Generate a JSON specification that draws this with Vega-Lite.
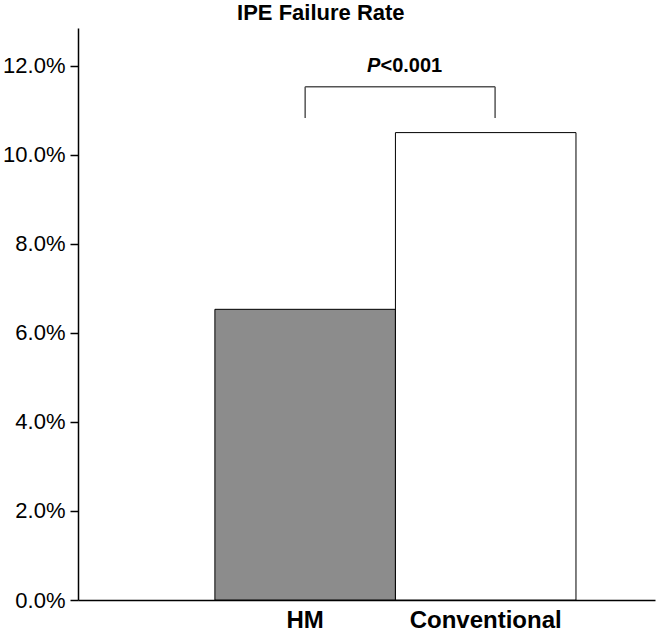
{
  "$schema": "https://vega.github.io/schema/vega-lite/v6.json",
  "width": 577,
  "height": 572,
  "autosize": {"type": "none"},
  "padding": {"left": 78, "top": 28, "right": 1, "bottom": 34},
  "background": "white",
  "config": {
    "view": {"stroke": null},
    "font": "Liberation Sans",
    "axisX": {"domainColor": "black", "domainWidth": 1.5, "ticks": false, "labelAngle": 0, "labelFontWeight": "bold", "labelFontSize": 24, "labelColor": "black", "labelPadding": 8, "grid": false},
    "axisY": {"domainColor": "black", "domainWidth": 1.5, "tickColor": "black", "tickSize": 8, "tickWidth": 1.5, "labelFontSize": 22, "labelColor": "black", "labelPadding": 5, "grid": false}
  },
  "title": {"text": "IPE Failure Rate", "fontSize": 22, "fontWeight": "bold", "color": "black", "frame": "bounds", "anchor": "middle", "offset": 3, "dx": -8},
  "datasets": {
    "bars": [
      {"group": "HM", "rate": 0.0653},
      {"group": "Conventional", "rate": 0.105}
    ],
    "bracketLeft": [{"group": "HM", "low": 0.1083, "high": 0.1153}],
    "bracketRight": [{"group": "Conventional", "low": 0.1083, "high": 0.1153}],
    "bracketTop": [{"from": "HM", "to": "Conventional", "level": 0.1153}],
    "pLabel": [{"group": "HM", "level": 0.12, "italic": "P", "rest": "<0.001"}]
  },
  "layer": [
    {
      "data": {"name": "bars"},
      "mark": {"type": "bar", "stroke": "black", "strokeWidth": 1},
      "encoding": {
        "x": {"field": "group", "type": "nominal", "title": null,
              "scale": {"domain": ["HM", "Conventional"], "paddingInner": 0, "paddingOuter": 0.598, "align": 0.634}},
        "y": {"field": "rate", "type": "quantitative", "title": null,
              "scale": {"domain": [0, 0.1285], "nice": false},
              "axis": {"values": [0, 0.02, 0.04, 0.06, 0.08, 0.1, 0.12], "format": ".1%"}},
        "color": {"field": "group", "type": "nominal", "legend": null,
                  "scale": {"domain": ["HM", "Conventional"], "range": ["#8c8c8c", "#ffffff"]}}
      }
    },
    {
      "data": {"name": "bracketLeft"},
      "mark": {"type": "rule", "color": "#555555", "strokeWidth": 1.5},
      "encoding": {
        "x": {"field": "group", "type": "nominal", "bandPosition": 0.5, "title": null},
        "y": {"field": "low", "type": "quantitative", "title": null},
        "y2": {"field": "high"}
      }
    },
    {
      "data": {"name": "bracketRight"},
      "mark": {"type": "rule", "color": "#555555", "strokeWidth": 1.5},
      "encoding": {
        "x": {"field": "group", "type": "nominal", "bandPosition": 0.552, "title": null},
        "y": {"field": "low", "type": "quantitative", "title": null},
        "y2": {"field": "high"}
      }
    },
    {
      "data": {"name": "bracketTop"},
      "mark": {"type": "rule", "color": "#555555", "strokeWidth": 1.5},
      "encoding": {
        "x": {"field": "from", "type": "nominal", "bandPosition": 0.5, "title": null},
        "x2": {"field": "to", "bandPosition": 0.552},
        "y": {"field": "level", "type": "quantitative", "title": null}
      }
    },
    {
      "data": {"name": "pLabel"},
      "mark": {"type": "text", "align": "right", "baseline": "middle", "fontSize": 20, "fontWeight": "bold", "fontStyle": "italic", "color": "black"},
      "encoding": {
        "x": {"field": "group", "type": "nominal", "bandPosition": 0.917, "title": null},
        "y": {"field": "level", "type": "quantitative", "title": null},
        "text": {"field": "italic"}
      }
    },
    {
      "data": {"name": "pLabel"},
      "mark": {"type": "text", "align": "left", "baseline": "middle", "fontSize": 20, "fontWeight": "bold", "color": "black"},
      "encoding": {
        "x": {"field": "group", "type": "nominal", "bandPosition": 0.917, "title": null},
        "y": {"field": "level", "type": "quantitative", "title": null},
        "text": {"field": "rest"}
      }
    }
  ]
}
